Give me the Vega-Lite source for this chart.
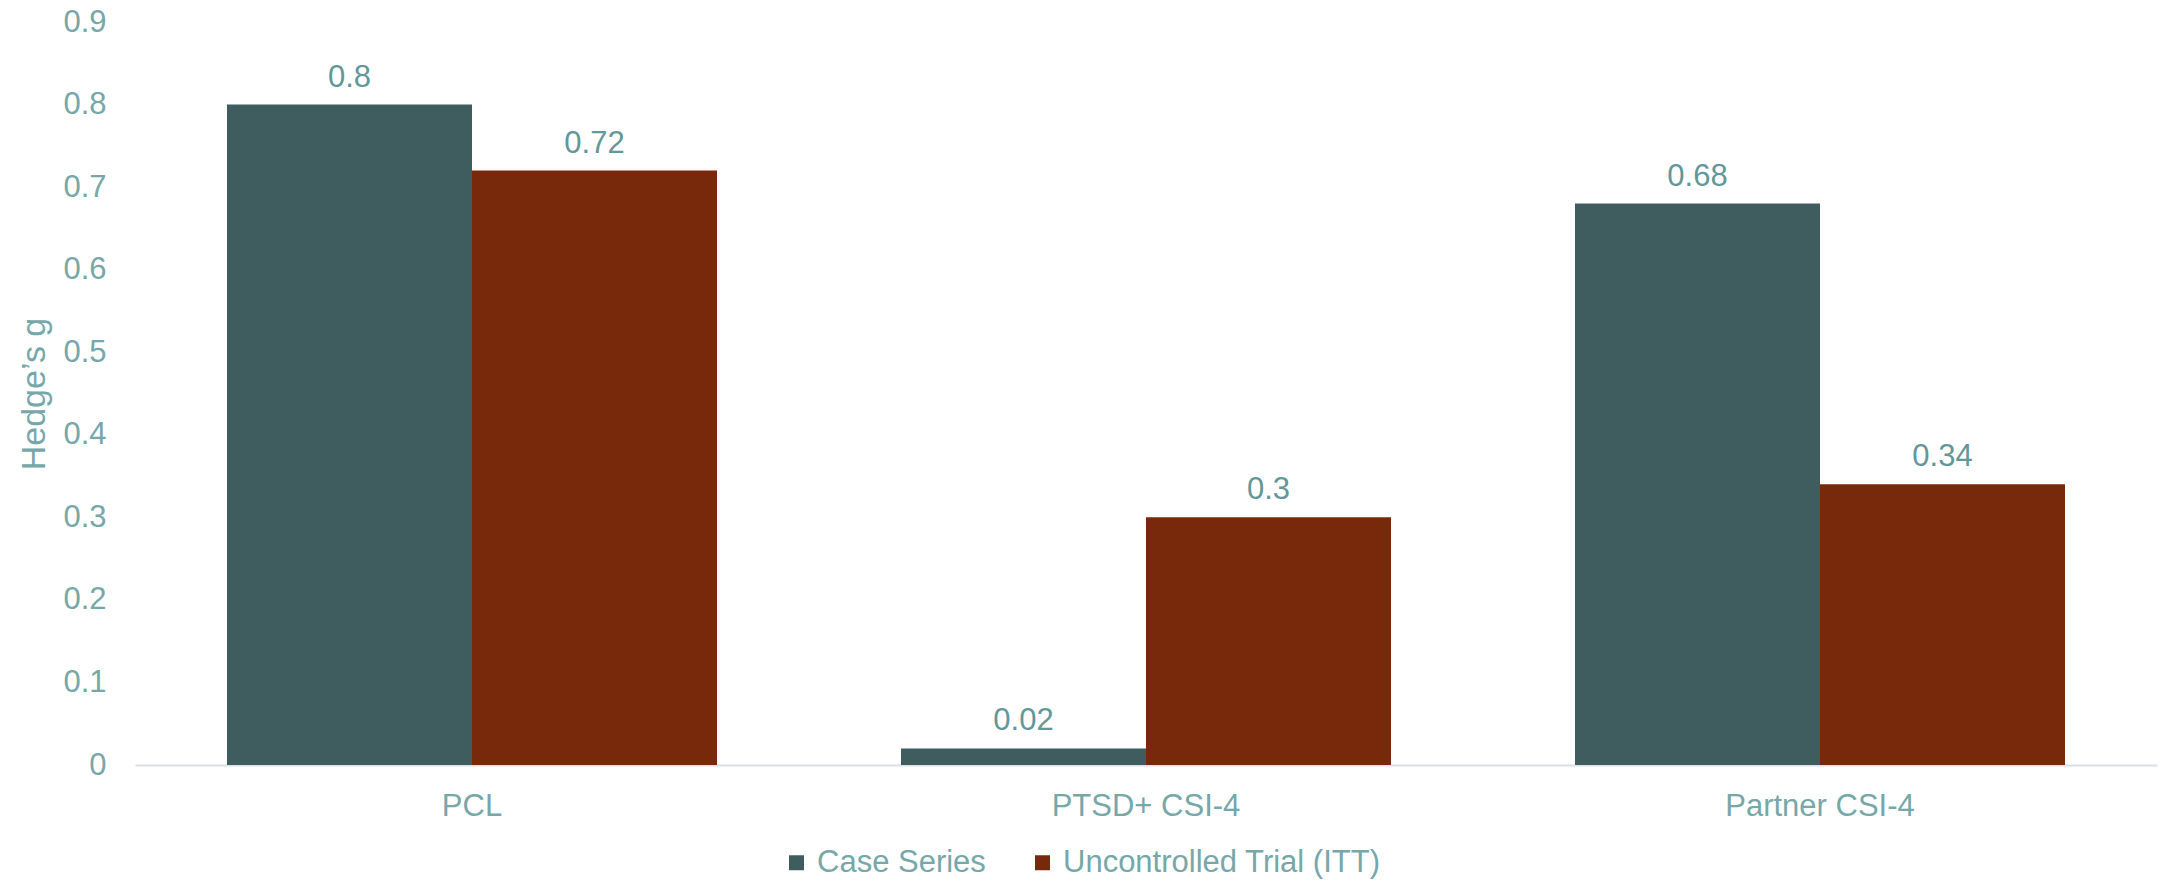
{
  "$schema": "https://vega.github.io/schema/vega-lite/v6.json",
  "width": 2022,
  "height": 743,
  "autosize": {"type": "none"},
  "padding": {"left": 135, "top": 22, "right": 13, "bottom": 117},
  "background": "white",
  "config": {
    "view": {"stroke": null},
    "font": "Liberation Sans"
  },
  "data": {
    "values": [
      {"measure": "PCL", "series": "Case Series", "g": 0.8},
      {"measure": "PCL", "series": "Uncontrolled Trial (ITT)", "g": 0.72},
      {"measure": "PTSD+ CSI-4", "series": "Case Series", "g": 0.02},
      {"measure": "PTSD+ CSI-4", "series": "Uncontrolled Trial (ITT)", "g": 0.3},
      {"measure": "Partner CSI-4", "series": "Case Series", "g": 0.68},
      {"measure": "Partner CSI-4", "series": "Uncontrolled Trial (ITT)", "g": 0.34}
    ]
  },
  "encoding": {
    "x": {
      "field": "measure",
      "type": "nominal",
      "sort": ["PCL", "PTSD+ CSI-4", "Partner CSI-4"],
      "scale": {"paddingInner": 0.273, "paddingOuter": 0.1365},
      "axis": {
        "title": null,
        "labelAngle": 0,
        "labelLimit": 0,
        "domain": true,
        "domainColor": "#D9E1E5",
        "domainWidth": 2,
        "ticks": false,
        "grid": false,
        "labelFont": "Liberation Sans",
        "labelFontSize": 31,
        "labelColor": "#76A7A9",
        "labelPadding": 26
      }
    },
    "xOffset": {
      "field": "series",
      "type": "nominal",
      "sort": ["Case Series", "Uncontrolled Trial (ITT)"],
      "scale": {"paddingInner": 0, "paddingOuter": 0}
    },
    "y": {
      "field": "g",
      "type": "quantitative",
      "scale": {"domain": [0, 0.9], "nice": false},
      "axis": {
        "title": "Hedge’s g",
        "titleFont": "Liberation Sans",
        "titleFontSize": 34,
        "titleFontWeight": "normal",
        "titleColor": "#76A7A9",
        "titlePadding": 11,
        "values": [0, 0.1, 0.2, 0.3, 0.4, 0.5, 0.6, 0.7, 0.8, 0.9],
        "format": ".1~f",
        "domain": false,
        "ticks": false,
        "grid": false,
        "labelFont": "Liberation Sans",
        "labelFontSize": 31,
        "labelColor": "#76A7A9",
        "labelPadding": 29
      }
    }
  },
  "layer": [
    {
      "mark": {"type": "bar"},
      "encoding": {
        "color": {
          "field": "series",
          "type": "nominal",
          "sort": ["Case Series", "Uncontrolled Trial (ITT)"],
          "scale": {
            "domain": ["Case Series", "Uncontrolled Trial (ITT)"],
            "range": ["#3F5C5E", "#78290C"]
          },
          "legend": {
            "title": null,
            "orient": "none",
            "direction": "horizontal",
            "legendX": 646,
            "legendY": 825,
            "symbolType": "square",
            "symbolSize": 225,
            "symbolStrokeWidth": 0,
            "labelFont": "Liberation Sans",
            "labelFontSize": 31,
            "labelColor": "#76A7A9",
            "labelLimit": 0,
            "labelOffset": 5,
            "columnPadding": 41
          }
        }
      }
    },
    {
      "mark": {
        "type": "text",
        "baseline": "alphabetic",
        "dy": -18,
        "font": "Liberation Sans",
        "fontSize": 31,
        "color": "#639799"
      },
      "encoding": {
        "text": {"field": "g", "type": "quantitative", "format": ".2~f"}
      }
    }
  ]
}
